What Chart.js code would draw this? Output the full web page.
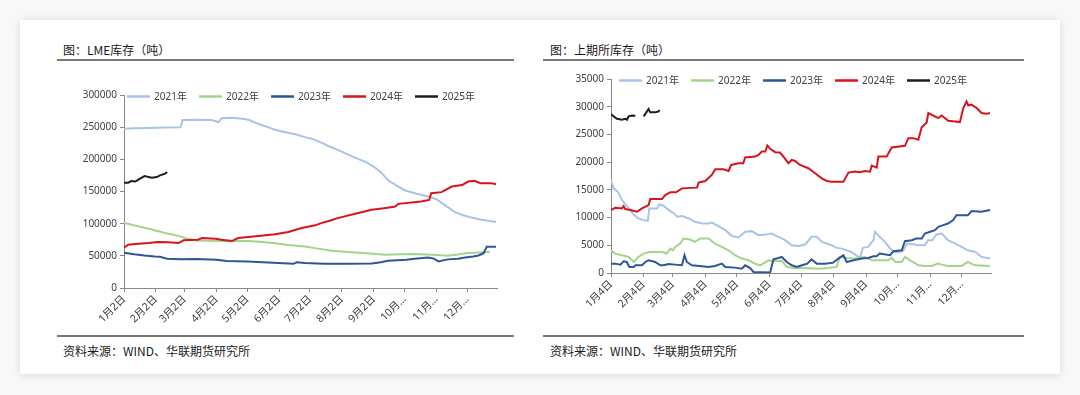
<!DOCTYPE html>
<html>
<head>
<meta charset="utf-8">
<script src="https://cdn.jsdelivr.net/npm/chart.js@4.4.1/dist/chart.umd.min.js"></script>
<style>
  html, body { margin: 0; padding: 0; background: #f8f8f8; width: 1080px; height: 395px; overflow: hidden; }
  .card { position: absolute; left: 20px; top: 20px; width: 1040px; height: 354px; background: #fff; box-shadow: 0 1px 9px rgba(0,0,0,0.13); }
  .txt { position: absolute; font: 12px "Noto Sans CJK SC", "Noto Sans", sans-serif; color: #1a1a1a; line-height: 16px; white-space: nowrap; }
  .rule { position: absolute; height: 2px; background: #777; }
  canvas { position: absolute; }
</style>
</head>
<body>
<div class="card"></div>
<div class="txt" style="left:63px;top:42px">图：LME库存（吨）</div>
<div class="rule" style="left:57px;top:59px;width:457px"></div>
<div class="rule" style="left:57px;top:335px;width:457px"></div>
<div class="txt" style="left:63px;top:343px">资料来源：WIND、华联期货研究所</div>

<div class="txt" style="left:550px;top:42px">图：上期所库存（吨）</div>
<div class="rule" style="left:543px;top:59px;width:481px"></div>
<div class="rule" style="left:543px;top:335px;width:481px"></div>
<div class="txt" style="left:550px;top:343px">资料来源：WIND、华联期货研究所</div>

<canvas id="lme" width="457" height="272" style="left:57px;top:62px"></canvas>
<canvas id="shfe" width="481" height="272" style="left:543px;top:62px"></canvas>

<script>
// ---- data ----
const seriesLabels = ['2021年', '2022年', '2023年', '2024年', '2025年'];
const seriesColors = ['#a8c3ea', '#a3d48b', '#2e5598', '#d9131c', '#1e1e1e'];

// LME (x = days after 1月2日)
const lmeTickDays = [0, 31, 59, 90, 120, 151, 181, 212, 243, 273, 304, 334];
const lmeTickLabels = ['1月2日', '2月2日', '3月2日', '4月2日', '5月2日', '6月2日', '7月2日', '8月2日', '9月2日', '10月…', '11月…', '12月…'];

const lme2021Days = [0, 10, 25, 40, 55, 57, 70, 85, 92, 95, 105, 115, 121, 131, 140, 147, 155, 167, 176, 183, 192, 200, 208, 216, 226, 235, 243, 250, 257, 265, 273, 285, 296, 304, 312, 322, 330, 338, 348, 356, 362];
const lme2021 = [247500, 248500, 248800, 249500, 250000, 261000, 261500, 261000, 258000, 264000, 264700, 263000, 261500, 255000, 250000, 246000, 243000, 239000, 234500, 232000, 226000, 220000, 214600, 209000, 202000, 196000, 188700, 180000, 167500, 159500, 152000, 146500, 142200, 138000, 129300, 118000, 113000, 109600, 106000, 104000, 102500];

const lme2022Days = [0, 5, 11, 24, 40, 53, 63, 72, 89, 105, 121, 135, 147, 160, 176, 186, 202, 225, 240, 254, 270, 283, 300, 315, 325, 332, 345, 356];
const lme2022 = [101000, 99500, 97000, 92000, 85500, 81000, 76000, 74000, 73000, 73500, 73000, 71500, 69400, 67000, 64500, 62000, 58000, 55300, 53500, 51700, 52500, 53000, 51500, 50100, 52000, 54000, 55000, 56000];

const lme2023Days = [0, 10, 20, 30, 35, 42, 55, 70, 90, 100, 120, 140, 150, 165, 168, 176, 195, 220, 241, 250, 257, 275, 283, 296, 301, 306, 315, 325, 332, 340, 345, 350, 353, 362];
const lme2023 = [55000, 52500, 50500, 49000, 48500, 45500, 44800, 45000, 44000, 42000, 41300, 39500, 38800, 37600, 40000, 38800, 37700, 37700, 38000, 40000, 42400, 44000, 45500, 47500, 46000, 41300, 44500, 45500, 47500, 49000, 50500, 54000, 64000, 64300];

const lme2024Days = [0, 4, 14, 24, 33, 43, 53, 58, 72, 76, 89, 95, 105, 111, 131, 147, 160, 173, 186, 192, 200, 208, 225, 241, 255, 264, 267, 289, 297, 299, 309, 319, 329, 335, 341, 347, 357, 362];
const lme2024 = [62700, 67300, 68900, 69900, 71500, 71000, 69900, 74100, 75100, 77700, 76700, 75100, 73000, 77700, 80800, 83400, 87000, 93200, 97400, 100900, 104500, 108600, 115300, 121500, 124500, 126600, 130800, 134400, 137000, 147400, 149000, 157700, 160000, 165400, 166500, 163000, 163000, 161400];

const lme2025Days = [0, 4, 7, 11, 14, 20, 27, 32, 35, 40, 42];
const lme2025 = [163700, 163700, 166300, 165500, 168400, 174000, 171500, 172500, 175100, 177700, 180300];

// SHFE (x = days after 1月4日)
const shfeTickDays = [0, 31, 59, 90, 120, 151, 181, 212, 243, 273, 304, 334];
const shfeTickLabels = ['1月4日', '2月4日', '3月4日', '4月4日', '5月4日', '6月4日', '7月4日', '8月4日', '9月4日', '10月…', '11月…', '12月…'];

const shfe2021Days = [0, 2.5, 7, 10.5, 17, 22, 26, 31, 35, 36.5, 44, 46, 50, 55, 60, 63, 68, 74, 80, 87, 93, 96, 102, 109, 115, 121.5, 128, 134, 140.5, 147, 153, 159.5, 166, 172, 178.6, 185, 191, 196, 201, 210, 215, 220, 229, 237, 240, 245, 250, 251.5, 256, 261, 266, 271, 278, 282, 294, 299, 302, 306, 310, 315, 321, 328, 334, 340, 347, 353, 361];
const shfe2021 = [16780, 15270, 14550, 13160, 11650, 10440, 9840, 9540, 9420, 11650, 11650, 12380, 12130, 11350, 10750, 10140, 10260, 9840, 9240, 8930, 8930, 9100, 8510, 7730, 6700, 6400, 7430, 7550, 6820, 6940, 7120, 6520, 5920, 5010, 4890, 5130, 6520, 6520, 5610, 5010, 4530, 4400, 3800, 2720, 4530, 4710, 5920, 7430, 6520, 5610, 4400, 3700, 3900, 5300, 5000, 5000, 5900, 5900, 6940, 7120, 5920, 5310, 4710, 4100, 3800, 2900, 2600];

const shfe2022Days = [0, 4, 10.5, 17, 21.6, 26, 31, 37, 48.5, 53, 56.5, 59, 61, 66, 69, 75.5, 80, 85, 93, 99, 105.6, 112, 118, 124.6, 131, 137, 142, 145, 150, 153, 162.7, 167.5, 175, 185, 197.6, 207, 215, 218, 224.6, 232.5, 242, 248.4, 264, 267.4, 270.6, 277, 280, 285, 293, 299, 305.5, 311.8, 315, 321, 334, 340, 346.7, 361];
const shfe2022 = [4100, 3500, 3200, 2900, 1990, 2900, 3500, 3800, 3800, 3500, 4400, 4100, 4710, 5310, 6220, 6040, 5610, 6220, 6220, 5310, 4710, 4100, 3200, 2600, 2290, 1690, 1390, 1690, 2290, 2170, 2170, 1090, 900, 900, 780, 900, 1090, 2900, 2720, 2600, 2900, 2290, 2290, 2720, 1990, 1990, 2900, 2290, 1390, 1270, 1270, 1690, 1510, 1270, 1270, 1990, 1390, 1270];

const shfe2023Days = [0, 4, 9, 12, 15, 17.4, 21.6, 23.2, 29.5, 32.7, 35.8, 42, 47, 50, 55, 61, 67.6, 70, 72.3, 77, 86.6, 93, 99, 105.6, 108.8, 118, 124.6, 127.8, 132.6, 135.7, 143.7, 151.6, 154.8, 159.5, 162.7, 167.5, 172.2, 177, 182, 187, 191, 196, 204, 211.8, 216.6, 221.4, 224.6, 231, 239, 245, 250, 253, 256, 265.8, 269, 277, 280, 286.4, 291, 296, 299, 304, 308.6, 311.8, 316.5, 321, 326, 329, 340, 343.5, 353, 361];
const shfe2023 = [1690, 1690, 1510, 2110, 1990, 1090, 1090, 1390, 1390, 1990, 2290, 1990, 1390, 1390, 1630, 1510, 1390, 3200, 1990, 1390, 1210, 1090, 1270, 1690, 1090, 970, 780, 1390, 900, 180, 150, 100, 2480, 2720, 2900, 1990, 1390, 1090, 1390, 1690, 2480, 1690, 1690, 1870, 2600, 3200, 1990, 2290, 2600, 2720, 3020, 3020, 3500, 3200, 3920, 4100, 5730, 5920, 6220, 6220, 7120, 7430, 7730, 8330, 8630, 8930, 9540, 10440, 10440, 11170, 11050, 11350];

const shfe2024Days = [0, 4, 10.5, 12, 13.6, 18.4, 24.7, 29.5, 35.8, 37.4, 48.5, 51.7, 56.5, 62, 67.6, 82, 83.4, 89.8, 96, 99.3, 107, 112, 114.5, 121.5, 126, 127.8, 137.3, 140.5, 143.7, 147, 149, 151.6, 156.4, 161, 164.3, 169, 172.2, 175.4, 180, 188, 194.4, 200.8, 205.5, 210.3, 221.4, 226.2, 232.5, 237.3, 242, 246.8, 248.4, 253.1, 254.7, 262.6, 267.4, 280, 283.2, 288, 292.8, 295.9, 300.7, 302.3, 311.8, 315, 321.3, 332.4, 335.6, 338.7, 340.3, 343.5, 348.3, 353, 357.8, 361];
const shfe2024 = [11350, 11770, 11650, 12070, 11530, 11350, 11050, 11650, 12250, 13340, 13340, 14070, 14550, 14550, 15270, 15400, 16300, 16600, 17690, 18710, 18710, 18400, 19500, 19800, 19800, 20830, 21000, 21300, 21900, 21900, 23000, 22400, 21800, 21730, 21000, 19800, 20400, 20220, 19500, 18900, 18000, 17080, 16600, 16480, 16480, 18110, 18290, 18170, 18400, 18290, 19380, 19020, 21000, 21000, 22640, 22940, 24330, 24330, 24030, 26260, 27170, 28860, 27950, 28430, 27470, 27230, 29760, 30970, 30250, 30370, 29760, 28860, 28740, 28860];

const shfe2025Days = [0, 2.5, 5.7, 10.5, 13.6, 15.2, 16.8, 20, 23.2, 27, 31.1, 34.3, 35.8, 37.4, 42.2, 45.4, 46.3];
const shfe2025 = [28680, 28250, 27830, 27650, 27830, 27650, 28250, 28430, 28370, null, 28250, 29160, 29580, 28980, 28980, 29160, 29400];

// ---- chart setup ----
Chart.defaults.font.family = '"Noto Sans", "Noto Sans CJK SC", sans-serif';
Chart.defaults.font.size = 10;
Chart.defaults.color = '#404040';

const inlineLegend = {
  id: 'inlineLegend',
  afterDatasetsDraw(chart, args, opts) {
    const ctx = chart.ctx;
    const area = chart.chartArea;
    ctx.save();
    ctx.font = '10px "Noto Sans", "Noto Sans CJK SC", sans-serif';
    ctx.textBaseline = 'middle';
    chart.data.datasets.forEach((ds, i) => {
      const x = area.left + opts.x0 + i * opts.gap;
      const y = area.top + opts.dy;
      ctx.strokeStyle = ds.borderColor;
      ctx.lineWidth = 2.5;
      ctx.beginPath();
      ctx.moveTo(x, y);
      ctx.lineTo(x + 23, y);
      ctx.stroke();
      ctx.fillStyle = '#404040';
      ctx.fillText(ds.label, x + 27, y + 0.5);
    });
    ctx.restore();
  }
};

function points(days, vals) {
  return days.map((d, i) => ({ x: d, y: vals[i] }));
}

function makeChart(id, seriesDays, seriesVals, tickDays, tickLabels, yMax, yStep, box) {
  return new Chart(document.getElementById(id), {
    type: 'line',
    data: {
      datasets: seriesVals.map((vals, i) => ({
        label: seriesLabels[i],
        data: points(seriesDays[i], vals),
        borderColor: seriesColors[i],
        borderWidth: 2,
        pointRadius: 0,
        tension: 0,
        spanGaps: false,
        order: 5 - i
      }))
    },
    options: {
      responsive: false,
      animation: false,
      devicePixelRatio: 1,
      layout: { padding: { top: box.top, right: box.right, left: 0, bottom: 0 } },
      plugins: {
        legend: { display: false },
        tooltip: { enabled: false },
        inlineLegend: { x0: box.legendX, gap: 72, dy: 1.5 }
      },
      scales: {
        x: {
          type: 'linear',
          min: 0,
          max: box.xMax,
          afterBuildTicks: (scale) => { scale.ticks = tickDays.map(v => ({ value: v })); },
          afterFit: (scale) => { scale.height = box.xHeight; },
          ticks: {
            autoSkip: false,
            minRotation: 45,
            maxRotation: 45,
            padding: 1,
            font: { size: 10.5 },
            callback: (v) => tickLabels[tickDays.indexOf(v)]
          },
          grid: { drawOnChartArea: false, tickLength: 4, color: '#888' },
          border: { color: '#888', width: 1 }
        },
        y: {
          min: 0,
          max: yMax,
          afterFit: (scale) => { scale.width = box.yWidth; },
          ticks: { stepSize: yStep, padding: 3, callback: (v) => String(v) },
          grid: { drawOnChartArea: false, tickLength: 4, color: '#888' },
          border: { color: '#888', width: 1 }
        }
      }
    },
    plugins: [inlineLegend]
  });
}

makeChart('lme',
  [lme2021Days, lme2022Days, lme2023Days, lme2024Days, lme2025Days],
  [lme2021, lme2022, lme2023, lme2024, lme2025],
  lmeTickDays, lmeTickLabels, 300000, 50000,
  { top: 33, right: 17, yWidth: 67, xHeight: 46, xMax: 363, legendX: 3 });

makeChart('shfe',
  [shfe2021Days, shfe2022Days, shfe2023Days, shfe2024Days, shfe2025Days],
  [shfe2021, shfe2022, shfe2023, shfe2024, shfe2025],
  shfeTickDays, shfeTickLabels, 35000, 5000,
  { top: 17, right: 33, yWidth: 68, xHeight: 61, xMax: 362, legendX: 8 });
</script>
</body>
</html>
